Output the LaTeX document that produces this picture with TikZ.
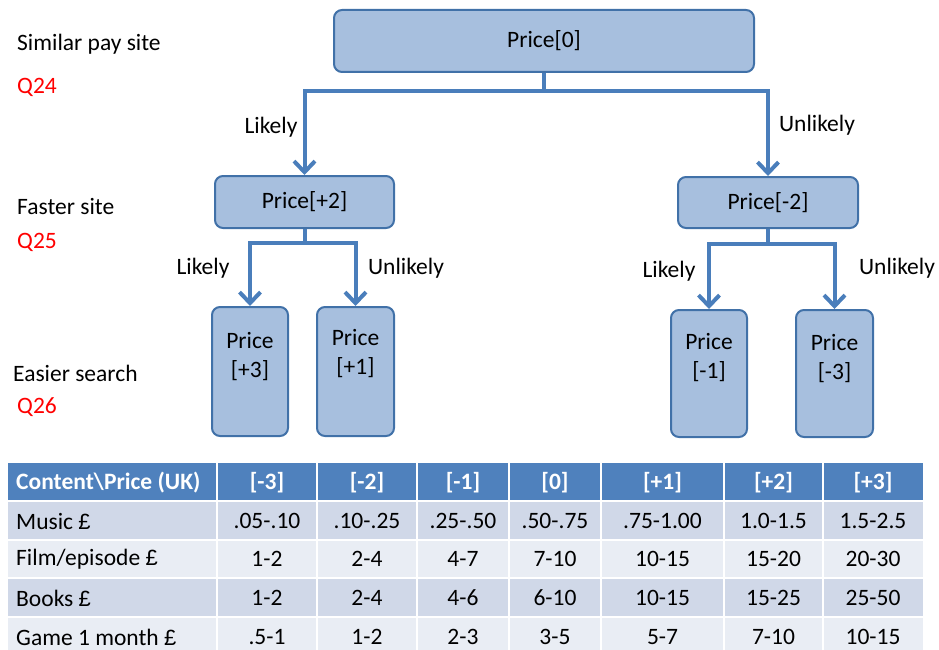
\documentclass[tikz,border=0pt]{standalone}
\usepackage{fontspec}
\setmainfont{Carlito}
\newfontfamily\pfont{Liberation Sans}
\newcommand{\gbp}{{\pfont\fontsize{22}{29}\selectfont £}}
\usetikzlibrary{arrows.meta}
\definecolor{boxfill}{RGB}{167,191,222}
\definecolor{boxdraw}{RGB}{65,113,168}
\definecolor{arr}{RGB}{74,126,187}
\definecolor{hdr}{RGB}{79,129,189}
\definecolor{rowA}{RGB}{208,216,232}
\definecolor{rowB}{RGB}{233,237,244}
\begin{document}
\begin{tikzpicture}[x=1pt,y=-1pt,
  txt/.style={inner sep=0pt, font=\fontsize{23.5}{29}\selectfont},
  pbox/.style={txt, draw=boxdraw, line width=2pt, fill=boxfill, rounded corners=8pt},
  conn/.style={draw=arr, line width=4pt},
  arrowc/.style={conn, -{Straight Barb[length=11pt,width=21pt]}},
  qlab/.style={txt, text=red, anchor=west},
  slab/.style={txt, anchor=west},
  hd/.style={txt, text=white, font=\fontsize{23.5}{29}\selectfont\bfseries},
  cell/.style={txt}
]
\useasboundingbox (0,0) rectangle (939,650);

% side labels
\node[slab] (s24) at (17,44) {Similar pay site};
\node[qlab] (q24) at (17,87) {Q24};
\node[slab] (s25) at (17,207) {Faster site};
\node[qlab] (q25) at (17,242) {Q25};
\node[slab] (s26) at (13,373) {Easier search};
\node[qlab] (q26) at (17,407) {Q26};

% boxes
\node[pbox, minimum width=420, minimum height=62] (p0) at (544,41) {Price[0]};
\node[pbox, minimum width=179, minimum height=52] (p2) at (304.5,202) {Price[+2]};
\node[pbox, minimum width=180, minimum height=51] (m2) at (768,202.5) {Price[-2]};
\node[pbox, minimum width=76, minimum height=129] (p3) at (250,371.5) {};
\node[pbox, minimum width=77, minimum height=129] (p1) at (355.5,371.5) {};
\node[pbox, minimum width=76, minimum height=127] (m1) at (709,373.5) {};
\node[pbox, minimum width=77, minimum height=127] (m3) at (834.5,373.5) {};
\node[txt, align=center] (t3) at (250,357) {Price\\{[+3]}};
\node[txt, align=center] (t1) at (355.5,354) {Price\\{[+1]}};
\node[txt, align=center] (tm1) at (709,357.5) {Price\\{[-1]}};
\node[txt, align=center] (tm3) at (834.5,359) {Price\\{[-3]}};

% connectors
\coordinate (j0) at (544,91);
\coordinate (j1) at (304.5,243);
\coordinate (j2) at (768,244);
\draw[conn] (p0.south) -- (j0);
\draw[arrowc] (j0) -| (p2.north);
\draw[arrowc] (j0) -| (m2.north);
\draw[conn] (p2.south) -- (j1);
\draw[arrowc] (j1) -| (p3.north);
\draw[arrowc] (j1) -| (p1.north);
\draw[conn] (m2.south) -- (j2);
\draw[arrowc] (j2) -| (m1.north);
\draw[arrowc] (j2) -| (m3.north);

% branch labels
\node[txt] (lk0) at (271,127) {Likely};
\node[txt] (ul0) at (817,125) {Unlikely};
\node[txt] (lk1) at (203,268) {Likely};
\node[txt] (ul1) at (406,268) {Unlikely};
\node[txt] (lk2) at (669,271) {Likely};
\node[txt] (ul2) at (897,268) {Unlikely};

% table
\fill[hdr] (8,463) rectangle (923,501);
\fill[rowA] (8,501) rectangle (923,540);
\fill[rowB] (8,540) rectangle (923,578);
\fill[rowA] (8,578) rectangle (923,617);
\fill[rowB] (8,617) rectangle (923,656);
\foreach \y in {501,540,578,617} \draw[white, line width=2.5pt] (8,\y) -- (923,\y);
\foreach \x in {217,317,417,509,601,724,823} \draw[white, line width=2pt] (\x,463) -- (\x,656);

\node[hd, anchor=west] (h0) at (16,483) {Content\textbackslash Price (UK)};
\foreach \x/\t [count=\i] in {267/{[-3]},367/{[-2]},463/{[-1]},555/{[0]},662.5/{[+1]},773.5/{[+2]},873/{[+3]}}
  \node[hd] (h\i) at (\x,483) {\t};

\node[cell, anchor=west] (a0) at (16,521) {Music \gbp};
\foreach \x/\t [count=\i] in {267/.05-.10,367/.10-.25,463/.25-.50,555/.50-.75,662.5/.75-1.00,773.5/1.0-1.5,873/1.5-2.5}
  \node[cell] (a\i) at (\x,521) {\t};

\node[cell, anchor=west] (b0) at (16,559) {Film/episode \gbp};
\foreach \x/\t [count=\i] in {267/1-2,367/2-4,463/4-7,555/7-10,662.5/10-15,773.5/15-20,873/20-30}
  \node[cell] (b\i) at (\x,559) {\t};

\node[cell, anchor=west] (c0) at (16,598) {Books \gbp};
\foreach \x/\t [count=\i] in {267/1-2,367/2-4,463/4-6,555/6-10,662.5/10-15,773.5/15-25,873/25-50}
  \node[cell] (c\i) at (\x,598) {\t};

\node[cell, anchor=west] (d0) at (16,637) {Game 1 month \gbp};
\foreach \x/\t [count=\i] in {267/.5-1,367/1-2,463/2-3,555/3-5,662.5/5-7,773.5/7-10,873/10-15}
  \node[cell] (d\i) at (\x,637) {\t};
\end{tikzpicture}
\end{document}
